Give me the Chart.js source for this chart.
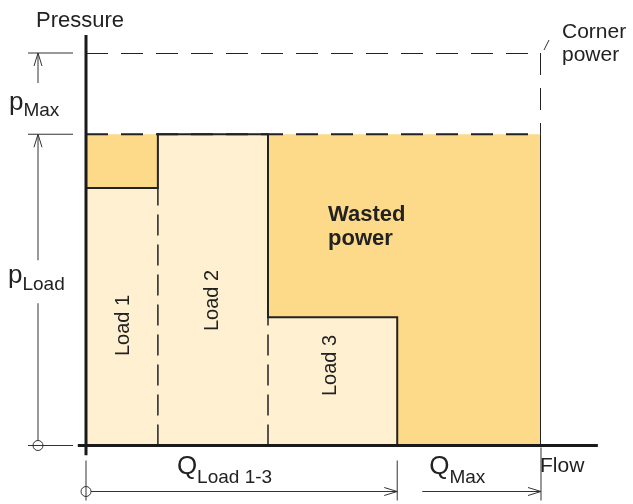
<!DOCTYPE html>
<html>
<head>
<meta charset="utf-8">
<script src="https://cdn.jsdelivr.net/npm/chart.js@4.4.1/dist/chart.umd.min.js"></script>
<style>
  html, body { margin: 0; padding: 0; background: #fff; }
  #wrap { width: 633px; height: 504px; }
</style>
</head>
<body>
<div id="wrap"><canvas id="chart"></canvas></div>
<script>
// flow (x) and pressure (y) in % of the pump's max
const loadNames = ['Load 1', 'Load 2', 'Load 3'];
const loadFlowEnd = [15.8, 40, 68.4];
const loadPressure = [65.6, 79.3, 32.7];
const qMax = 100;
const pLoad = 79.3;
const pMax = 100;

const orange = '#fdd98a';
const light = '#fef0d0';
const ink = '#222';

const loadStart = i => (i === 0 ? 0 : loadFlowEnd[i - 1]);

function seg(points, opts) {
  return Object.assign({
    data: points,
    borderColor: ink,
    borderWidth: 2,
    pointRadius: 0,
    fill: false,
    tension: 0,
    order: 4
  }, opts || {});
}

const datasets = [];

// wasted power = whole pLoad x qMax box
datasets.push({
  data: [{ x: 0, y: pLoad }, { x: qMax, y: pLoad }],
  fill: 'origin',
  backgroundColor: orange,
  borderWidth: 0,
  pointRadius: 0,
  order: 10
});

// the three loads on top of it
loadNames.forEach((name, i) => {
  datasets.push({
    label: name,
    data: [{ x: loadStart(i), y: loadPressure[i] }, { x: loadFlowEnd[i], y: loadPressure[i] }],
    fill: 'origin',
    backgroundColor: light,
    borderWidth: 0,
    pointRadius: 0,
    order: 9
  });
});

// dashed: corner power box, pLoad level, load borders
const outerDash = [22, 13];
const innerDash = [21, 9];
datasets.push(seg([{ x: 0, y: pMax }, { x: qMax, y: pMax }, { x: qMax, y: pLoad }], { borderDash: outerDash, order: 6 }));
datasets.push(seg([{ x: 0, y: pLoad }, { x: qMax, y: pLoad }], { borderDash: outerDash, order: 6 }));
datasets.push(seg([{ x: loadFlowEnd[0], y: 0 }, { x: loadFlowEnd[0], y: loadPressure[0] }], { borderDash: innerDash, borderWidth: 1.5, order: 6 }));
datasets.push(seg([{ x: loadFlowEnd[1], y: 0 }, { x: loadFlowEnd[1], y: loadPressure[2] }], { borderDash: innerDash, borderWidth: 1.5, order: 6 }));

// solid step outline of the loads
datasets.push(seg([
  { x: 0, y: loadPressure[0] },
  { x: loadFlowEnd[0], y: loadPressure[0] },
  { x: loadFlowEnd[0], y: loadPressure[1] },
  { x: loadFlowEnd[1], y: loadPressure[1] },
  { x: loadFlowEnd[1], y: loadPressure[2] },
  { x: loadFlowEnd[2], y: loadPressure[2] },
  { x: loadFlowEnd[2], y: 0 }
]));
datasets.push(seg([{ x: qMax, y: pLoad }, { x: qMax, y: 0 }]));

// axes
datasets.push(seg([{ x: 0, y: -2.5 }, { x: 0, y: 104.6 }], { borderWidth: 3, borderColor: '#1a1a1a', clip: false, order: 1 }));
datasets.push(seg([{ x: -1.8, y: 0 }, { x: 112.5, y: 0 }], { borderWidth: 3, borderColor: '#1a1a1a', clip: false, order: 1 }));

const annotations = {
  id: 'annotations',
  afterDatasetsDraw(chart) {
    const ctx = chart.ctx;
    const X = v => chart.scales.x.getPixelForValue(v);
    const Y = v => chart.scales.y.getPixelForValue(v);
    const font = (size, bold) => (bold ? 'bold ' : '') + size + 'px "Liberation Sans", Arial, sans-serif';

    ctx.save();
    ctx.strokeStyle = '#333';
    ctx.lineWidth = 1;
    ctx.fillStyle = ink;

    const line = (x1, y1, x2, y2) => {
      ctx.beginPath(); ctx.moveTo(x1, y1); ctx.lineTo(x2, y2); ctx.stroke();
    };
    const arrowUp = (x, y) => {
      ctx.beginPath(); ctx.moveTo(x - 4, y + 13); ctx.lineTo(x, y); ctx.lineTo(x + 4, y + 13); ctx.stroke();
    };
    const arrowRight = (x, y) => {
      ctx.beginPath(); ctx.moveTo(x - 13, y - 4); ctx.lineTo(x, y); ctx.lineTo(x - 13, y + 4); ctx.stroke();
    };
    const ring = (x, y) => {
      ctx.beginPath(); ctx.arc(x, y, 5, 0, Math.PI * 2); ctx.stroke();
    };
    const sub = (main, small, x, base, big, sz, drop) => {
      ctx.textAlign = 'left';
      ctx.textBaseline = 'alphabetic';
      ctx.font = font(big);
      ctx.fillText(main, x, base);
      const w = ctx.measureText(main).width;
      ctx.font = font(sz);
      ctx.fillText(small, x + w, base + drop);
    };

    // pressure dimension on the left
    const x0 = X(0);
    const dimX = x0 - 48;
    line(x0 - 58, Y(pMax), x0 - 13, Y(pMax));
    line(x0 - 58, Y(pLoad), x0 - 13, Y(pLoad));
    line(x0 - 58, Y(0), x0 - 13, Y(0));
    line(dimX, Y(pMax), dimX, Y(pMax) + 30);
    arrowUp(dimX, Y(pMax));
    line(dimX, Y(pLoad), dimX, Y(pLoad) + 126);
    arrowUp(dimX, Y(pLoad));
    line(dimX, Y(pLoad) + 169, dimX, Y(0) - 5);
    ring(dimX, Y(0));

    // flow dimension below
    const dimY = Y(0) + 46;
    line(x0, Y(0) + 15, x0, Y(0) + 55);
    ring(x0, dimY);
    line(x0 + 5, dimY, X(loadFlowEnd[2]), dimY);
    arrowRight(X(loadFlowEnd[2]), dimY);
    line(X(loadFlowEnd[2]), Y(0) + 15, X(loadFlowEnd[2]), Y(0) + 55);
    line(X(loadFlowEnd[2]) + 25, dimY, X(qMax), dimY);
    arrowRight(X(qMax), dimY);
    line(X(qMax), Y(0) + 2, X(qMax), Y(0) + 55);

    // corner power leader
    line(X(qMax) + 3, Y(pMax) - 3, X(qMax) + 8, Y(pMax) - 13);

    // texts
    ctx.fillStyle = ink;
    ctx.textAlign = 'left';
    ctx.textBaseline = 'alphabetic';
    ctx.font = font(22);
    ctx.fillText('Pressure', x0 - 50, Y(pMax) - 26);
    ctx.font = font(21);
    ctx.fillText('Corner', X(qMax) + 21, Y(pMax) - 15);
    ctx.fillText('power', X(qMax) + 21, Y(pMax) + 8);
    ctx.fillText('Flow', X(qMax) - 1, Y(0) + 26);

    sub('p', 'Max', 9, Y(pMax) + 57, 26, 19, 6);
    sub('p', 'Load', 8, 283, 26, 19, 7);
    sub('Q', 'Load 1-3', X(loadFlowEnd[0]) + 19, Y(0) + 28, 26, 19, 9);
    sub('Q', 'Max', X(loadFlowEnd[2]) + 32, Y(0) + 28, 26, 19, 9);

    ctx.font = font(22, true);
    ctx.fillText('Wasted', X(loadFlowEnd[1]) + 60, Y(pLoad) + 87);
    ctx.fillText('power', X(loadFlowEnd[1]) + 60, Y(pLoad) + 111);

    // rotated load labels
    const labelShift = [[7, 120], [5, 145], [3, 80]];
    ctx.font = font(20);
    ctx.textAlign = 'center';
    loadNames.forEach((name, i) => {
      const cx = (X(loadStart(i)) + X(loadFlowEnd[i])) / 2 + labelShift[i][0];
      const cy = Y(0) - labelShift[i][1];
      ctx.save();
      ctx.translate(cx, cy);
      ctx.rotate(-Math.PI / 2);
      ctx.fillText(name, 0, 0);
      ctx.restore();
    });

    ctx.restore();
  }
};

new Chart(document.getElementById('chart'), {
  type: 'line',
  data: { datasets: datasets },
  options: {
    responsive: true,
    maintainAspectRatio: false,
    animation: false,
    events: [],
    layout: { padding: { left: 86, right: 92, top: 53, bottom: 58.5 } },
    scales: {
      x: { type: 'linear', min: 0, max: qMax, display: false },
      y: { type: 'linear', min: 0, max: pMax, display: false }
    },
    plugins: {
      legend: { display: false },
      tooltip: { enabled: false }
    }
  },
  plugins: [annotations]
});
</script>
</body>
</html>
